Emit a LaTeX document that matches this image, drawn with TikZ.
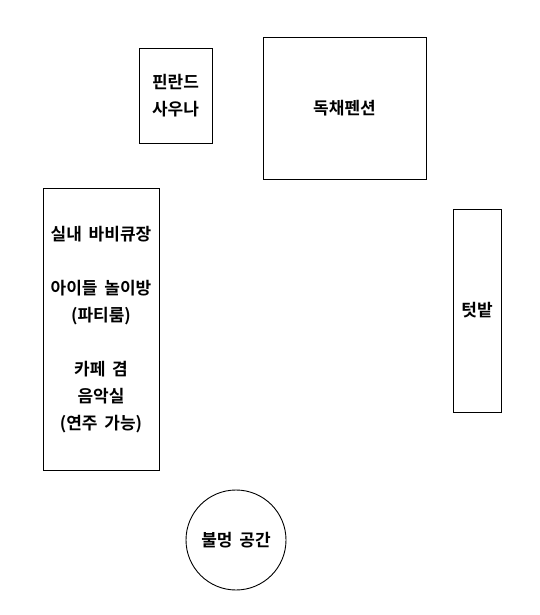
\documentclass[tikz,border=0pt]{standalone}
\usepackage{fontspec}
\newfontfamily\kr{Noto Sans CJK KR}[BoldFont={Noto Sans CJK KR Bold}]
\begin{document}
\begin{tikzpicture}[x=1pt,y=-1pt,
  room/.style={draw,line width=0.9pt,inner sep=0pt},
  lbl/.style={font=\kr\bfseries\fontsize{17}{27}\selectfont,align=center}]
\useasboundingbox[fill=white] (0,0) rectangle (540,615);
\node[room,minimum width=73,minimum height=95] (sauna) at (175.5,95.5) {};
\node[lbl] (saunaT) at (sauna.center) {핀란드\\사우나};
\node[room,minimum width=163,minimum height=142] (pension) at (344.5,108) {};
\node[lbl] (pensionT) at (pension.center) {독채펜션};
\node[room,minimum width=116,minimum height=282] (left) at (101,329) {};
\node[lbl] (leftT) at (101,330) {실내\hspace{0.4em}바비큐장\\[27pt]아이들\hspace{0.4em}놀이방\\(파티룸)\\[27pt]카페\hspace{0.4em}겸\\음악실\\(연주\hspace{0.4em}가능)};
\node[room,minimum width=48,minimum height=203] (garden) at (477,310.5) {};
\node[lbl] (gardenT) at (garden.center) {텃밭};
\node[draw,line width=0.9pt,circle,minimum size=100,inner sep=0pt] (fire) at (236,540) {};
\node[lbl] (fireT) at (fire.center) {불멍\hspace{0.4em}공간};
\end{tikzpicture}
\end{document}
